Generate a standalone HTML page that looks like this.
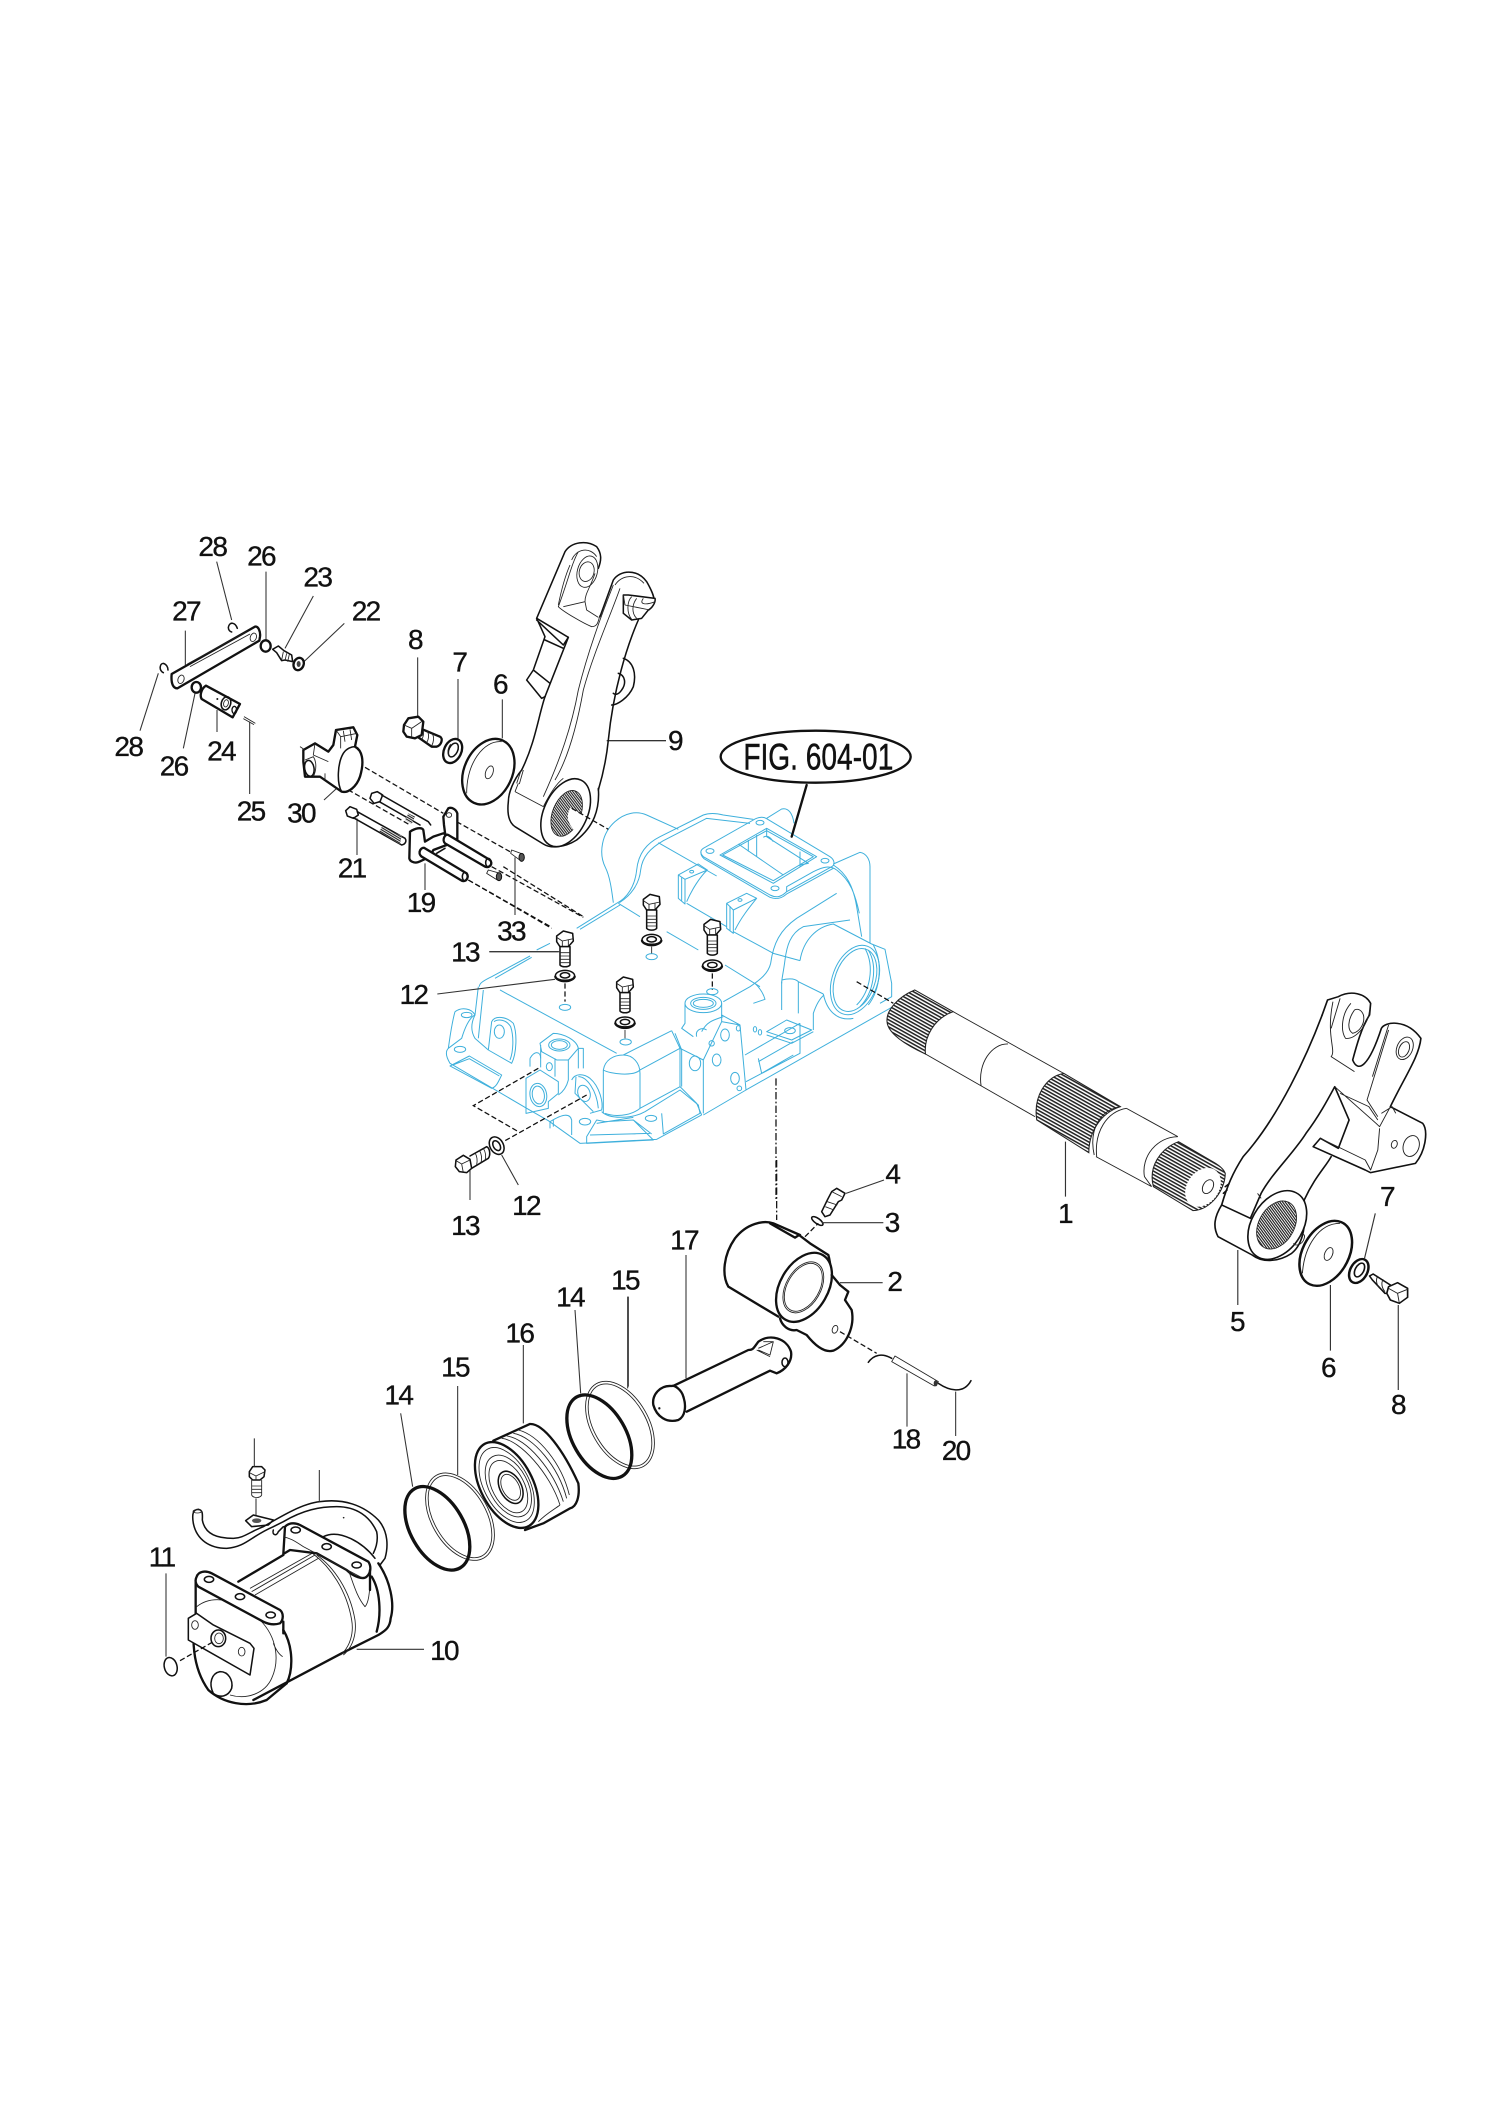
<!DOCTYPE html>
<html><head><meta charset="utf-8"><style>
html,body{margin:0;padding:0;background:#fff}
svg{display:block}
.k{fill:none;stroke:#111;stroke-width:7;stroke-linejoin:round;stroke-linecap:round}
.kw{fill:#fff;stroke:#111;stroke-width:7;stroke-linejoin:round}
.m{fill:none;stroke:#111;stroke-width:4.6;stroke-linejoin:round;stroke-linecap:round}
.mw{fill:#fff;stroke:#111;stroke-width:4.6;stroke-linejoin:round}
.t{fill:none;stroke:#222;stroke-width:2.6;stroke-linejoin:round}
.tw{fill:#fff;stroke:#222;stroke-width:2.6}
.b{fill:none;stroke:#3fb0dc;stroke-width:3;stroke-linejoin:round}
.l{fill:none;stroke:#333;stroke-width:3.2}
.d{fill:none;stroke:#111;stroke-width:3.8;stroke-dasharray:16 8}
.dd{fill:none;stroke:#111;stroke-width:3.8;stroke-dasharray:22 7 5 7}
.n{font-family:"Liberation Sans",sans-serif;font-size:84px;letter-spacing:-5px;text-anchor:middle;fill:#111;stroke:#111;stroke-width:1}
</style></head><body>
<svg xmlns="http://www.w3.org/2000/svg" width="1500" height="2121" viewBox="0 0 1500 2121">
<defs>
<pattern id="sp" width="9" height="9" patternUnits="userSpaceOnUse" patternTransform="rotate(31)"><rect width="9" height="9" fill="#fff"/><rect width="9" height="4.5" fill="#222"/></pattern>
<pattern id="sf" width="6" height="6" patternUnits="userSpaceOnUse" patternTransform="rotate(31)"><rect width="6" height="6" fill="#fff"/><rect width="6" height="3.4" fill="#222"/></pattern>
<g id="bolt"><path class="mw" d="M-25,-12 L-5,-27 L23,-20 L25,3 L10,20 L-15,20 L-25,5 Z"/><path class="t" d="M-25,-8 L-8,3 L25,-4 M-8,3 L-8,20 M10,0 L10,20"/><path class="mw" d="M-15,20 L-15,75 C-10,82 10,82 15,75 L15,20 Z"/><path class="t" d="M-15,38 L15,38 M-15,48 L15,48 M-15,58 L15,58 M-15,68 L15,68" stroke-width="4"/></g>
<g id="wash"><ellipse class="mw" rx="29" ry="17"/><path class="k" stroke-width="3" d="M-29,2 C-25,18 25,18 29,2"/><ellipse class="m" rx="14" ry="8" cy="-2"/></g>
</defs>
<rect width="1500" height="2121" fill="#fff"/>

<!-- housing, zoom-2 space -->
<g transform="translate(420,720) scale(.33333)">
<path class="b" d="M580,548 C575,510 570,470 556,442 C535,400 545,340 585,305 C615,278 650,272 680,285 L775,328"/>
<path class="b" d="M590,550 C620,535 645,500 650,450 C655,400 680,370 720,350 L850,285 C870,278 890,280 910,285 L1000,298"/>
<path class="b" d="M598,548 C635,525 658,490 662,450 C667,410 690,385 730,362 L860,295 L990,310"/>
<path class="b" d="M850,385 L1000,300 C1015,290 1030,290 1040,296 L1230,410 C1245,420 1245,435 1235,440 L1100,515 C1085,530 1070,535 1050,525 L850,410 C840,400 840,392 850,385 Z"/>
<path class="b" d="M843,395 C842,405 846,410 852,416 L1050,532 C1070,540 1085,535 1100,522 L1240,445"/>
<path class="b" d="M900,405 L1040,325 L1190,410 L1060,490 Z M908,405 L1040,332 L1180,410 L1060,482 Z"/>
<path class="b" d="M955,372 L1090,465 M1040,325 L1040,350 L1165,430 L1140,435 M985,360 L985,395 M1010,345 L1010,410 M1140,395 L1140,440 M1030,352 C1040,345 1050,350 1060,365"/>
<ellipse class="b" cx="870" cy="393" rx="12" ry="7"/><ellipse class="b" cx="1020" cy="308" rx="12" ry="7"/><ellipse class="b" cx="1215" cy="422" rx="12" ry="7"/><ellipse class="b" cx="1065" cy="505" rx="12" ry="7"/>
<path class="b" d="M1040,295 L1085,267 C1105,262 1118,280 1122,310"/>
<path class="b" d="M1240,432 L1320,397 C1340,400 1350,420 1350,440 L1350,670"/>
<path class="b" d="M1240,435 C1280,460 1300,500 1310,560 L1325,650 M1250,450 C1290,480 1305,520 1318,580"/>
<path class="b" d="M1100,515 L1100,500 L1180,455 C1210,440 1230,435 1250,450"/>
<path class="b" d="M715,368 L890,468 M595,550 L660,590 M740,635 L835,690 M915,735 L1020,800 M800,550 L920,620 M940,635 L1060,700 L1140,722"/>
<path class="b" d="M775,465 L775,535 L795,552 L795,478 Z M775,465 L835,432 L862,450 L795,478 M800,545 C815,510 840,470 862,450 M785,472 L785,542"/>
<ellipse class="b" cx="815" cy="455" rx="6" ry="4"/>
<path class="b" d="M920,550 L920,625 L940,640 L940,570 Z M920,550 L980,520 L1010,535 L940,570 M945,630 C965,590 990,560 1010,535 M930,558 L930,632"/>
<ellipse class="b" cx="960" cy="540" rx="6" ry="4"/>
<path class="b" d="M1250,520 L1130,595 C1080,630 1060,670 1052,730 C1045,760 1020,780 990,800 L910,845 M1290,600 L1150,620 C1110,640 1100,680 1095,720 C1090,760 1085,775 1085,790 M1005,790 C1020,805 1030,820 1035,838 L1000,850"/>
<path class="b" d="M1140,722 C1150,660 1190,620 1240,612 L1355,672"/>
<path class="b" d="M1210,822 C1220,870 1250,905 1300,895 M1355,672 L1395,688 L1415,790 L1415,830 L1380,850"/>
<ellipse class="b" cx="1305" cy="780" rx="68" ry="108" transform="rotate(20 1305 780)"/>
<ellipse class="b" cx="1305" cy="780" rx="60" ry="98" transform="rotate(20 1305 780)"/>
<path class="b" d="M1345,690 C1375,740 1360,820 1320,860 M1335,685 C1365,740 1350,815 1310,855 M1360,675 C1390,730 1380,810 1345,855"/>
<path class="b" d="M978,1110 L1415,862 M978,1085 L1140,1000 L1140,910 M975,1005 L1140,910 M1015,1025 L1120,965 M1025,1060 L1120,1005 M1015,1015 L1025,1060"/>
<path class="b" d="M1040,935 L1100,900 L1175,930 L1115,960 Z M1040,945 L1115,970 L1180,935"/>
<ellipse class="b" cx="1110" cy="932" rx="16" ry="9"/>
<ellipse class="b" cx="1005" cy="928" rx="5" ry="8"/><ellipse class="b" cx="1020" cy="937" rx="5" ry="8"/>
<path class="b" d="M1085,785 L1085,870 M1135,785 L1135,880 M1085,780 C1105,775 1125,775 1135,785 L1210,822 M1180,930 L1180,880 C1190,850 1200,835 1212,825"/>
<path class="b" d="M470,625 L590,550 M480,628 L600,555 M390,670 L350,690 M330,708 L215,770 C190,782 178,790 178,800 M335,712 L225,775 M240,810 L590,1000 M910,890 C880,900 860,905 845,935"/>
<ellipse class="b" cx="695" cy="710" rx="17" ry="9"/><ellipse class="b" cx="435" cy="862" rx="17" ry="9"/><ellipse class="b" cx="617" cy="966" rx="17" ry="9"/><ellipse class="b" cx="877" cy="815" rx="17" ry="9"/>
<g transform="translate(0,780)">
<path class="b" d="M105,95 C125,80 155,85 165,105 C155,110 140,125 125,175 L85,205 C75,215 78,230 90,250 L320,385 L385,422 L480,490 L710,478 L845,405"/>
<path class="b" d="M90,258 L148,228 L245,285 C235,305 230,320 215,325 Z M98,255 L148,236 L238,288 M105,95 C95,130 90,170 85,205"/>
<ellipse class="b" cx="120" cy="208" rx="17" ry="9"/><ellipse class="b" cx="140" cy="105" rx="16" ry="8"/>
<path class="b" d="M165,105 C155,125 150,150 165,175 L205,210 M165,105 L175,20 M175,175 L190,30"/>
<path class="b" d="M205,210 L215,125 C225,105 260,110 280,130 C292,160 290,220 275,250 L205,210 M222,125 C235,115 260,120 272,140 C282,170 280,215 270,240"/>
<ellipse class="b" cx="238" cy="155" rx="15" ry="20"/>
<path class="b" d="M360,190 L400,160 C430,160 470,180 475,205 L445,240 L410,240 L365,215 Z M362,195 L362,262 M405,235 L405,290 M445,240 L445,300 C440,320 430,335 415,345 M475,205 L490,205 L490,265 M475,205 L475,265"/>
<ellipse class="b" cx="418" cy="195" rx="32" ry="18"/><ellipse class="b" cx="418" cy="195" rx="24" ry="13"/>
<path class="b" d="M318,295 L360,270 L415,305 L415,340 L385,365 L385,385 L318,400 Z"/>
<ellipse class="b" cx="355" cy="345" rx="25" ry="35" transform="rotate(-10 355 345)"/><ellipse class="b" cx="355" cy="345" rx="18" ry="27" transform="rotate(-10 355 345)"/>
<ellipse class="b" cx="388" cy="260" rx="9" ry="12"/>
<path class="b" d="M330,235 C345,210 362,215 362,235 M330,235 L330,260"/>
<path class="b" d="M455,300 C465,280 490,280 510,295 C540,320 550,370 545,390 L510,400 M468,290 L465,340 L520,395 M475,290 C500,290 530,330 535,385"/>
<ellipse class="b" cx="492" cy="340" rx="18" ry="25" transform="rotate(-20 492 340)"/>
<path class="b" d="M550,400 L550,270 C555,240 580,225 610,225 C640,225 660,250 660,280 L660,385 M610,225 L755,152 M660,270 L780,205 M755,152 L780,205 M780,205 L780,320 L830,370 L845,405 M555,400 C580,410 630,410 660,385 L780,320 M550,270 C570,282 640,290 660,270 M765,160 L785,210 L785,320"/>
<path class="b" d="M545,395 C570,420 640,415 675,395 L780,330 L835,375 L840,400 L730,462 L725,400 M390,425 C430,400 450,400 455,420 L455,465 M400,420 L400,440 M390,425 L390,445"/>
<path class="b" d="M530,420 L500,470 L500,490 L700,480 L640,420 L555,425 Z M530,430 L640,412 M510,465 L690,460 M640,420 L695,462"/>
<ellipse class="b" cx="495" cy="425" rx="17" ry="10"/><ellipse class="b" cx="693" cy="415" rx="17" ry="9"/>
<path class="b" d="M850,400 L850,240 L905,125 L960,135 L978,330 L850,405 M905,125 L905,105 L960,135"/>
<ellipse class="b" cx="915" cy="165" rx="13" ry="18"/><ellipse class="b" cx="890" cy="240" rx="13" ry="18"/><ellipse class="b" cx="945" cy="295" rx="13" ry="18"/><ellipse class="b" cx="825" cy="250" rx="17" ry="22"/><ellipse class="b" cx="955" cy="145" rx="6" ry="8"/><ellipse class="b" cx="958" cy="325" rx="7" ry="7"/><ellipse class="b" cx="875" cy="190" rx="8" ry="8"/>
<path class="b" d="M795,70 L795,130 L785,145 L820,170 M905,70 L905,110 M830,170 C825,150 845,140 860,150 M850,240 L780,205"/>
<ellipse class="b" cx="850" cy="70" rx="55" ry="28"/><ellipse class="b" cx="850" cy="70" rx="38" ry="18"/><ellipse class="b" cx="850" cy="70" rx="30" ry="12"/>
</g>
<!-- bolts -->
<use href="#bolt" x="435" y="660"/><use href="#bolt" x="695" y="550"/><use href="#bolt" x="877" y="625"/><use href="#bolt" x="615" y="798"/>
<use href="#wash" x="435" y="768"/><use href="#wash" x="695" y="660"/><use href="#wash" x="877" y="737"/><use href="#wash" x="615" y="908"/>
<path class="d" d="M435,790 L435,845 M877,760 L877,810" stroke-dasharray="8 4"/>
<path class="t" d="M695,680 L695,700 M615,930 L615,955" stroke-width="3"/>
<path class="l" d="M560,62 L738,62 M52,822 L405,778 M208,695 L415,695 M245,1305 L295,1395 M150,1350 L150,1440"/>
<path class="k" stroke-width="5" d="M1160,195 L1115,350"/>
<ellipse cx="1187" cy="110" rx="285" ry="78" fill="none" stroke="#111" stroke-width="7"/>
<text x="970" y="148" font-family="Liberation Sans, sans-serif" font-size="112" fill="#111" stroke="#111" stroke-width="1.5" textLength="450" lengthAdjust="spacingAndGlyphs">FIG. 604-01</text>
<path class="dd" d="M1068,1075 L1068,1440"/>
<path class="d" d="M215,440 L490,592 M145,480 L395,622 M1310,785 L1420,850 M355,1045 L160,1157 L295,1235 M500,1125 L250,1265"/>
<!-- lower bolt -->
<path class="m" d="M150,1308 L200,1280 C210,1285 212,1305 205,1315 L155,1345" stroke-width="3.6"/>
<path class="t" d="M165,1298 C172,1310 172,1325 170,1335 M178,1290 C186,1305 186,1318 183,1328 M190,1285 C198,1298 198,1312 195,1322" stroke-width="3"/>
<path class="mw" d="M108,1320 L130,1306 L150,1318 L155,1345 L140,1358 L118,1355 L106,1340 Z"/>
<path class="t" d="M108,1322 L125,1332 L150,1320 M125,1332 L130,1358"/>
<ellipse class="mw" cx="230" cy="1277" rx="20" ry="28" transform="rotate(-30 230 1277)"/><ellipse class="m" cx="230" cy="1277" rx="10" ry="16" transform="rotate(-30 230 1277)"/>
<text class="n" x="765" y="90">9</text>
<text class="n" x="-20" y="852">12</text>
</g>

<!-- top-left small parts, zoom-1 space -->
<g transform="translate(100,520) scale(.33333)">
<path class="l" d="M350,125 L395,300 M498,155 L498,360 M640,228 L555,385 M256,332 L256,435 M733,310 L612,425 M953,412 L953,590 M1074,477 L1074,658 M1207,538 L1207,655 M120,632 L175,460 M250,685 L285,520 M351,636 L351,570 M449,822 L449,605 M672,840 L710,805 M771,1005 L771,895 M975,1110 L975,1030 M1245,1185 L1245,1012 M1168,1295 L1380,1295"/>
<path class="d" d="M795,742 L1030,880 M1070,905 L1230,995 M1105,1080 L1355,1225 M640,750 L930,915" stroke-width="3"/>
<path class="d" stroke-width="3" d="M1210,1040 L1450,1190"/>
<path class="kw" d="M215,462 L465,320 C475,318 482,335 480,350 L478,362 L232,505 C222,505 212,495 215,462 Z"/>
<path class="t" d="M262,432 L440,335 M270,440 L450,342"/>
<ellipse class="t" cx="243" cy="478" rx="9" ry="13" transform="rotate(20 243 478)"/><ellipse class="t" cx="460" cy="352" rx="9" ry="13" transform="rotate(20 460 352)"/>
<path class="m" d="M412,325 C405,305 388,305 385,322 C385,330 390,335 395,336 M190,458 C175,450 180,430 190,430 C198,432 204,440 204,450" stroke-width="3.4"/>
<ellipse class="k" cx="497" cy="378" rx="15" ry="17" stroke-width="8"/><ellipse class="k" cx="289" cy="502" rx="14" ry="16" stroke-width="7"/>
<path class="m" d="M530,398 L518,388 L535,378 L552,392 L575,405 L578,425 L555,420 L545,422 L530,398 Z" stroke-width="3.4"/>
<path class="t" d="M550,395 L545,420 M560,400 L555,422 M568,403 L563,425" stroke-width="3"/>
<ellipse class="k" cx="596" cy="432" rx="15" ry="19" transform="rotate(20 596 432)"/>
<ellipse cx="596" cy="432" rx="6" ry="9" fill="#444"/>
<path class="kw" d="M318,497 L420,552 L398,592 L305,537 C298,525 305,505 318,497 Z"/>
<ellipse class="m" cx="378" cy="550" rx="14" ry="20" transform="rotate(15 378 550)"/><ellipse class="t" cx="378" cy="550" rx="7" ry="11" transform="rotate(15 378 550)"/>
<ellipse cx="403" cy="570" rx="7" ry="11" fill="none" stroke="#111" stroke-width="4"/><circle cx="352" cy="537" r="3" fill="#111"/>
<path class="t" d="M432,590 L466,610 M430,596 L462,614" stroke-width="3"/>
<path class="kw" d="M960,625 L1020,650 C1030,655 1025,675 1010,680 L995,680 L945,645 Z" stroke-width="4"/>
<path class="t" d="M965,620 C975,635 970,650 965,660 M980,630 C990,645 985,660 980,668 M995,640 C1005,650 1000,668 995,678" stroke-width="3"/>
<path class="kw" d="M912,615 L925,595 L955,590 L970,605 L965,645 L945,655 L920,650 L910,635 Z" stroke-width="5"/>
<path class="t" d="M912,615 L935,625 L965,605 M935,625 L935,652"/>
<ellipse class="kw" cx="1058" cy="693" rx="26" ry="38" transform="rotate(25 1058 693)"/><ellipse class="m" cx="1060" cy="690" rx="13" ry="22" transform="rotate(25 1060 690)"/>
<path class="t" d="M1052,672 C1040,690 1042,705 1052,712"/>
<ellipse class="kw" cx="1165" cy="755" rx="72" ry="103" transform="rotate(25 1165 755)"/>
<path class="t" d="M1100,820 C1100,730 1150,660 1205,665"/>
<ellipse class="t" cx="1168" cy="757" rx="11" ry="20" transform="rotate(20 1168 757)"/>
<!-- 30 -->
<path class="kw" d="M610,690 L645,670 L685,695 L700,675 L708,630 L760,622 L772,645 L765,680 C785,690 795,720 780,770 C770,800 745,820 725,815 L660,770 L615,770 L610,725 Z" stroke-width="5"/>
<path class="m" d="M725,815 C710,790 712,730 730,700 C740,685 755,680 765,680"/>
<path class="t" d="M708,630 L722,650 L722,685 M722,650 L772,640 M730,632 L735,665 M750,628 L755,660 M615,720 L640,710 C650,725 650,750 640,770 M645,670 L640,705 L685,725 M675,760 L675,780 M600,680 L615,690" stroke-width="3"/>
<ellipse class="m" cx="628" cy="745" rx="14" ry="24" transform="rotate(-10 628 745)"/>
<!-- 21 bolts -->
<path class="mw" d="M750,860 L770,868 L775,885 L760,895 L742,888 L737,872 Z"/>
<path class="m" d="M772,875 L915,955 M760,893 L905,975 M915,955 C920,962 918,972 905,975" stroke-width="3.4"/>
<path d="M905,948 L846,920 L838,935 L900,972 Z" fill="url(#sf)"/>
<path class="mw" d="M815,820 L832,815 L848,825 L840,845 L822,850 L810,835 Z"/>
<path class="m" d="M845,825 L985,905 M838,845 L960,915 M985,905 L992,915" stroke-width="3.4"/>
<path d="M945,890 L925,880 L915,900 L935,912 Z" fill="url(#sf)"/>
<!-- 19 -->
<path class="kw" d="M1030,890 L1045,865 C1055,860 1068,868 1072,880 L1072,960 L1030,940 L1000,950 L975,965 L970,930 C965,920 945,925 930,935 L928,1015 C930,1028 950,1030 958,1025 L990,1010 L1000,990 L1040,975 L1032,915 Z" stroke-width="5"/>
<ellipse class="t" cx="1047" cy="885" rx="8" ry="7"/>
<path class="kw" d="M1045,945 L1170,1020 C1180,1030 1170,1045 1155,1040 L1035,970 C1025,960 1035,940 1045,945 Z"/>
<ellipse class="m" cx="1165" cy="1028" rx="8" ry="13"/>
<path class="kw" d="M975,985 L1100,1060 C1108,1072 1098,1088 1085,1082 L965,1010 C950,998 965,978 975,985 Z"/>
<ellipse class="m" cx="1095" cy="1070" rx="8" ry="13"/>
<path class="m" d="M1010,1000 L1035,985" />
<!-- 33 screws -->
<path class="t" d="M1235,990 L1270,1003 L1262,1022 L1232,1000 Z" stroke-width="3"/><ellipse cx="1265" cy="1012" rx="8" ry="12" fill="#555" stroke="#111" stroke-width="3"/>
<path class="t" d="M1165,1050 L1200,1060 L1192,1080 L1160,1060 Z" stroke-width="3"/><ellipse cx="1197" cy="1070" rx="8" ry="12" fill="#555" stroke="#111" stroke-width="3"/>
<text class="n" x="337" y="108">28</text><text class="n" x="483" y="136">26</text><text class="n" x="652" y="200">23</text><text class="n" x="258" y="302">27</text><text class="n" x="797" y="302">22</text><text class="n" x="945" y="387">8</text><text class="n" x="1078" y="455">7</text><text class="n" x="1200" y="520">6</text><text class="n" x="85" y="708">28</text><text class="n" x="221" y="767">26</text><text class="n" x="363" y="721">24</text><text class="n" x="452" y="902">25</text><text class="n" x="603" y="908">30</text><text class="n" x="755" y="1073">21</text><text class="n" x="962" y="1176">19</text><text class="n" x="1233" y="1261">33</text><text class="n" x="1095" y="1325">13</text>
</g>

<!-- arm 9, zoom-6 space -->
<g transform="translate(500,530) scale(.33333)">
<path class="t" d="M325,632 L498,632" stroke-width="3"/>
<path class="m" d="M370,385 C400,395 410,430 400,470 C385,505 350,525 335,525 M355,430 C375,435 380,460 365,480 C355,495 345,495 340,490"/>
<path class="m" d="M195,65 C215,35 260,30 290,50 C305,70 305,90 295,115 M195,65 L110,265 L205,322 L135,500"/>
<path class="m" d="M110,265 L135,320 L100,420 L80,450 L125,505 L135,500 M110,270 L190,345 L205,322 M135,330 L190,355 M80,450 L100,420 L150,460" stroke-width="3"/>
<path class="t" d="M235,65 C215,100 205,150 175,230 C190,245 250,280 275,290 C295,290 295,270 300,255 M255,215 L260,240 L295,262"/>
<path class="t" d="M215,90 C230,55 270,50 290,80 M175,225 C180,200 190,150 210,105 M285,130 C270,175 255,190 255,215 L190,230"/>
<ellipse class="t" cx="260" cy="125" rx="22" ry="30" transform="rotate(15 260 125)"/><ellipse class="t" cx="262" cy="125" rx="30" ry="48" transform="rotate(15 262 125)"/>
<path class="m" d="M300,260 L340,150 C360,120 410,115 440,155 C460,190 465,210 460,215 M415,270 C380,350 340,480 325,630 C320,680 310,730 295,780"/>
<path class="t" d="M345,165 C365,135 405,130 432,160 M340,165 C310,240 265,360 235,480 C215,590 180,690 130,800 M360,175 C330,260 280,370 250,480 C225,620 195,700 165,750"/>
<path class="mw" d="M370,195 L385,195 L465,205 C468,218 455,235 445,240 L425,265 L395,270 L370,250 Z"/>
<path class="t" d="M375,225 L450,240 M395,200 C380,215 380,250 395,268 M410,205 C395,225 395,250 410,265 M430,205 C415,225 440,225 465,215 M370,195 L375,225" stroke-width="3"/>
<path class="m" d="M135,500 C115,560 105,640 65,720 C40,750 25,790 25,815 C20,860 30,880 45,890 L130,942 C150,955 190,955 230,930 C280,890 300,840 295,775"/>
<path class="t" d="M45,785 L130,830 M55,760 L45,785 M130,830 C150,790 170,760 190,745"/>
<path class="t" d="M62,725 L50,760 M70,720 L58,762" stroke-width="3"/>
<ellipse class="mw" cx="197" cy="848" rx="65" ry="108" transform="rotate(25 197 848)"/>
<ellipse cx="200" cy="850" rx="42" ry="72" transform="rotate(22 200 850)" fill="url(#sf)" stroke="#222" stroke-width="2.4"/>
<path d="M212,832 L255,860 L225,905 C205,880 195,860 212,832 Z" fill="#fff"/>
<path class="d" d="M215,835 L325,898" stroke-width="4"/>
</g>

<!-- shaft + arm 5, zoom-3 space (x-compressed transcription) -->
<g transform="translate(877,960) scale(.359,.33333)">
<path d="M105,90 C60,110 25,150 28,185 C30,220 80,255 135,282 C130,230 160,175 212,155 Z" fill="url(#sp)" stroke="#222" stroke-width="3"/>
<path class="t" d="M212,155 L520,340 M135,282 L440,470 M365,252 C320,250 280,310 290,378" stroke-width="3"/>
<path d="M520,340 C470,350 435,410 445,480 L590,578 C590,520 620,460 678,440 Z" fill="url(#sp)" stroke="#222" stroke-width="3"/>
<path class="t" d="M678,440 C620,450 590,510 605,585 M695,445 C640,455 605,515 612,590 M695,445 L838,530 M610,590 L765,680 M838,530 C780,530 735,590 745,650 L765,680" stroke-width="3"/>
<path d="M840,545 C790,565 755,620 770,680 L880,752 C930,750 970,690 970,640 C965,625 950,615 940,608 Z" fill="url(#sp)" stroke="#222" stroke-width="3"/>
<ellipse cx="908" cy="682" rx="45" ry="62" transform="rotate(30 908 682)" fill="#fff"/>
<ellipse class="t" cx="922" cy="680" rx="14" ry="22" transform="rotate(25 922 680)"/>
<!-- arm 5 -->
<path class="m" d="M1240,165 C1200,280 1120,470 1020,590 C990,640 975,680 960,735 C940,770 935,800 950,830 L1045,885 C1075,910 1120,905 1155,880 C1190,850 1195,790 1190,720 C1220,650 1250,620 1265,590"/>
<path class="m" d="M1240,165 L1255,120 L1285,110 C1320,90 1360,100 1375,130 L1372,165 C1350,200 1335,260 1325,300 C1340,340 1370,320 1405,205 C1415,185 1475,175 1515,235 C1510,290 1470,350 1430,440 L1520,490 C1535,510 1530,570 1500,610 L1375,638 L1360,630 L1215,560 L1235,535 L1285,565 L1315,480 L1275,380 C1255,420 1230,470 1195,520 C1160,580 1100,640 1070,700 L1040,775 L960,735"/>
<path class="t" d="M1270,125 C1250,230 1280,270 1265,290 L1330,335 M1290,115 L1265,205 M1330,150 C1310,180 1310,210 1325,220 C1345,215 1360,190 1355,165 C1350,150 1340,145 1330,150 Z M1320,130 C1295,160 1290,210 1305,235 C1335,240 1370,190 1372,150 M1425,210 L1365,420 L1395,470 M1425,195 L1380,350 M1275,380 L1390,490 L1400,500 L1430,440 M1290,400 L1370,440 L1395,480 M1235,535 L1360,600 L1375,630 L1395,570 L1400,505 M1405,460 L1435,440 L1445,460 M1060,700 L1070,715"/>
<ellipse class="t" cx="1470" cy="265" rx="22" ry="35" transform="rotate(20 1470 265)"/><ellipse class="t" cx="1468" cy="268" rx="14" ry="24" transform="rotate(20 1468 268)"/>
<ellipse class="t" cx="1488" cy="558" rx="22" ry="32" transform="rotate(15 1488 558)"/><ellipse class="t" cx="1441" cy="553" rx="8" ry="12" transform="rotate(15 1441 553)"/>
<path class="m" d="M970,680 L980,672 M965,700 L975,690"/>
<ellipse class="mw" cx="1115" cy="795" rx="72" ry="110" transform="rotate(28 1115 795)" stroke-width="3"/>
<ellipse cx="1113" cy="795" rx="50" ry="76" transform="rotate(25 1113 795)" fill="url(#sf)" stroke="#222" stroke-width="2.4"/>
<path class="t" d="M1170,845 C1180,815 1195,820 1190,835 C1185,855 1165,860 1160,850" stroke-width="3"/>
<!-- 6 7 8 -->
<ellipse class="kw" cx="1250" cy="880" rx="65" ry="103" transform="rotate(25 1250 880)"/>
<path class="t" d="M1185,940 C1190,860 1230,790 1290,790"/>
<ellipse class="t" cx="1258" cy="882" rx="11" ry="20" transform="rotate(20 1258 882)"/>
<ellipse class="kw" cx="1342" cy="933" rx="24" ry="38" transform="rotate(25 1342 933)"/>
<ellipse class="m" cx="1344" cy="930" rx="12" ry="22" transform="rotate(25 1344 930)"/>
<path class="m" d="M1380,960 L1372,948 L1382,942 L1430,975 L1425,1000 L1415,1000 Z" stroke-width="3"/>
<path class="t" d="M1395,948 C1388,960 1392,975 1400,985 M1410,958 C1403,970 1407,985 1415,995"/>
<path class="mw" d="M1425,980 L1450,968 L1478,985 L1478,1012 L1455,1030 L1430,1020 L1420,1000 Z"/>
<path class="t" d="M1425,985 L1450,1000 L1478,988 M1450,1000 L1455,1030"/>
<path class="l" d="M525,545 L525,710 M1005,870 L1005,1035 M1263,975 L1263,1172 M1388,760 L1358,895 M1452,1035 L1452,1290"/>
</g>

<!-- 2,3,4,17,18,20, zoom-4 space -->
<g transform="translate(600,1160) scale(.33333)">
<path class="k" d="M600,225 L520,190 C490,180 440,190 405,235 C370,285 365,345 385,380 L535,470"/>
<path class="k" d="M510,190 L585,233 L597,225 L630,250 L685,285 C695,320 690,345 695,345"/>
<ellipse class="kw" cx="612" cy="382" rx="72" ry="112" transform="rotate(30 612 382)"/>
<ellipse class="t" cx="610" cy="382" rx="48" ry="78" transform="rotate(30 610 382)"/>
<ellipse class="t" cx="610" cy="382" rx="52" ry="83" transform="rotate(30 610 382)"/>
<path class="k" d="M540,475 C545,495 565,515 590,510 L620,525 C640,550 670,580 700,572 C740,555 765,500 755,450 L735,420 L745,395 L720,375 L695,345"/>
<ellipse class="t" cx="705" cy="508" rx="8" ry="12" transform="rotate(20 705 508)"/>
<path class="d" d="M720,515 L830,580" stroke-width="3"/>
<path class="dd" d="M530,0 L530,180"/>
<path class="d" d="M615,230 L655,190" stroke-width="3" stroke-dasharray="7 4"/>
<ellipse class="m" cx="652" cy="183" rx="20" ry="8" transform="rotate(35 652 183)"/>
<path class="m" d="M695,95 L710,85 L735,100 L725,120 L715,125 L690,165 L675,170 L665,155 L682,120 Z" stroke-width="3"/>
<path class="t" d="M682,125 L712,135 M676,140 L702,150 M695,95 L725,110"/>
<path class="l" d="M665,188 L850,188 M738,100 L852,60 M720,368 L848,368 M258,285 L258,655 M83,410 L83,685 M921,800 L921,640 M1067,828 L1067,695"/>
<path class="k" d="M215,680 L445,570 C460,570 460,565 475,545 C510,520 560,535 573,575 C578,605 555,630 530,640 L510,632 L260,755"/>
<path class="kw" d="M215,678 C180,675 155,705 160,735 C170,770 200,790 235,780 C255,770 260,740 250,710 C245,690 225,675 215,678 Z"/>
<path class="t" d="M475,565 L520,545 L510,585 L475,570 M490,545 L520,545 M470,570 L510,590" stroke-width="3"/>
<ellipse class="m" cx="555" cy="607" rx="9" ry="13"/>
<circle cx="178" cy="745" r="3.5" fill="#111"/>
<path class="m" d="M805,607 C820,585 845,578 875,595"/>
<path class="t" d="M885,588 L1015,665 L1003,678 L875,605 Z" stroke-width="3"/>
<ellipse cx="1007" cy="670" rx="6" ry="9" fill="#333"/>
<path class="m" d="M1015,670 C1045,690 1090,705 1113,662"/>
<text class="n" x="877" y="70">4</text><text class="n" x="875" y="216">3</text><text class="n" x="883" y="393">2</text><text class="n" x="252" y="268">17</text><text class="n" x="75" y="388">15</text><text class="n" x="917" y="866">18</text><text class="n" x="1067" y="900">20</text>
</g>

<!-- cylinder + rings, zoom-5 space -->
<g transform="translate(130,1350) scale(.33333)">
<ellipse class="t" cx="990" cy="500" rx="86" ry="143" transform="rotate(-30 990 500)" stroke-width="3"/>
<ellipse class="t" cx="990" cy="500" rx="78" ry="135" transform="rotate(-30 990 500)" stroke-width="3"/>
<ellipse cx="922" cy="535" rx="80" ry="137" transform="rotate(-30 922 535)" fill="none" stroke="#111" stroke-width="10"/>
<ellipse class="t" cx="1470" cy="225" rx="86" ry="143" transform="rotate(-30 1470 225)" stroke-width="3"/>
<ellipse class="t" cx="1470" cy="225" rx="78" ry="135" transform="rotate(-30 1470 225)" stroke-width="3"/>
<ellipse cx="1408" cy="260" rx="80" ry="137" transform="rotate(-30 1408 260)" fill="none" stroke="#111" stroke-width="10"/>
<!-- piston -->
<path class="k" d="M1090,272 L1200,222 C1240,220 1300,300 1345,400 C1350,440 1340,470 1320,475 L1240,520 L1185,540"/>
<path class="t" d="M1115,265 C1170,270 1260,370 1290,465 M1130,258 C1190,265 1270,360 1300,455 M1150,250 C1210,260 1285,350 1310,445 M1165,240 C1225,255 1295,340 1318,435 M1225,515 C1250,490 1270,480 1290,465" stroke-width="3"/>
<ellipse class="kw" cx="1130" cy="405" rx="78" ry="140" transform="rotate(-28 1130 405)"/>
<ellipse class="t" cx="1130" cy="405" rx="68" ry="122" transform="rotate(-28 1130 405)"/>
<ellipse class="t" cx="1135" cy="408" rx="58" ry="100" transform="rotate(-28 1135 408)"/>
<ellipse class="t" cx="1135" cy="410" rx="48" ry="85" transform="rotate(-28 1135 410)"/>
<ellipse class="m" cx="1142" cy="412" rx="32" ry="52" transform="rotate(-28 1142 412)" stroke-width="3"/>
<ellipse class="t" cx="1142" cy="412" rx="25" ry="42" transform="rotate(-28 1142 412)"/>
<!-- pipe -->
<path class="m" d="M205,478 C190,478 185,490 190,520 C200,570 240,595 290,595 C350,590 360,560 430,530 L460,515 C520,480 570,470 620,470 C680,470 720,500 740,545 C745,570 740,590 730,610"/>
<path class="m" d="M205,478 C218,480 218,490 217,510 C225,555 265,565 310,565 C340,565 360,545 400,530 C460,495 520,460 570,455 C640,445 700,465 745,510 C775,545 775,590 765,625 L750,645"/>
<ellipse class="t" cx="202" cy="484" rx="13" ry="5"/>
<path class="m" d="M347,512 L370,495 L430,510 L415,525 L365,530 Z" stroke-width="3.4"/>
<ellipse cx="380" cy="512" rx="14" ry="7" fill="#555"/>
<path class="m" d="M430,540 C425,555 440,560 445,545 L460,530" stroke-width="3"/>
<circle cx="641" cy="503" r="2.5" fill="#222"/>
<!-- body -->
<path class="m" d="M580,560 C630,535 700,580 735,625" stroke-width="5"/>
<path d="M460,615 C450,640 340,695 325,695 L360,1050 L635,910 L740,850 L780,810 C795,760 780,690 745,640 L700,610 Z" fill="#fff"/>
<path class="k" d="M325,695 L460,615 M370,1050 L635,910 L665,895 L745,855 C770,840 780,830 782,805 C795,760 780,690 745,640 M460,840 C490,890 490,960 470,1000 M725,680 C750,720 755,790 740,845"/>
<path class="t" d="M365,725 L555,615 M375,735 L565,625 M360,715 L550,608 M560,615 C610,650 660,720 675,810 C680,850 670,890 640,915 M550,612 C600,650 650,720 665,810 C672,850 660,890 632,915" stroke-width="3"/>
<path class="kw" d="M465,530 C480,515 500,520 510,525 L715,635 C725,650 722,670 710,680 C700,690 670,680 650,660 L560,610 L480,600 L460,612 Z" stroke-width="5"/>
<path class="t" d="M460,560 C480,565 490,570 520,590 L700,685 M655,660 C670,700 680,740 705,770 C715,760 720,730 720,680"/>
<ellipse class="m" cx="497" cy="540" rx="14" ry="9" stroke-width="3"/><ellipse class="m" cx="590" cy="590" rx="14" ry="9" stroke-width="3"/><ellipse class="m" cx="680" cy="645" rx="14" ry="9" stroke-width="3"/>
<path class="k" d="M720,660 L720,720" stroke-width="4"/>
<!-- front -->
<path class="k" d="M197,695 L197,790 C185,860 185,950 235,1020 C280,1060 350,1075 410,1050 L470,1000"/>
<path class="t" d="M200,770 C250,730 330,750 390,810 C440,860 450,930 425,985 C405,1030 350,1050 300,1035 M430,880 C440,905 450,915 458,920"/>
<path class="kw" d="M200,680 C205,665 225,660 245,670 L450,780 C462,790 460,810 450,820 C435,825 420,825 400,815 L205,710 C195,700 195,690 200,680 Z" stroke-width="5"/>
<ellipse class="m" cx="237" cy="688" rx="14" ry="9" stroke-width="3"/><ellipse class="m" cx="330" cy="740" rx="14" ry="9" stroke-width="3"/><ellipse class="m" cx="422" cy="795" rx="14" ry="9" stroke-width="3"/>
<path class="k" d="M460,815 L460,850" stroke-width="4"/>
<path class="mw" d="M175,805 L200,790 L250,825 L360,880 L372,895 L360,975 L175,870 Z"/>
<ellipse class="t" cx="195" cy="825" rx="10" ry="13" stroke-width="3"/><ellipse class="t" cx="335" cy="905" rx="10" ry="13" stroke-width="3"/>
<ellipse class="m" cx="265" cy="865" rx="22" ry="25"/><ellipse class="t" cx="267" cy="865" rx="13" ry="16"/>
<path class="mw" d="M250,1030 C235,1000 245,970 270,965 C295,965 310,990 305,1015 C295,1040 270,1045 250,1030 Z"/>
<ellipse class="m" cx="122" cy="950" rx="19" ry="28" transform="rotate(-15 122 950)" stroke-width="3"/>
<path class="d" d="M150,932 L250,875" stroke-width="3"/>
<!-- top bolt -->
<path class="mw" d="M358,365 L368,350 L395,350 L405,360 L402,380 L390,390 L368,390 L358,380 Z" stroke-width="3"/>
<path class="t" d="M358,368 L378,378 L405,365 M378,378 L378,390"/>
<path class="t" d="M365,390 L365,435 C370,445 390,445 395,435 L395,390 M365,408 L395,408 M365,418 L395,418 M365,428 L395,428" stroke-width="3"/>
<path class="l" d="M373,265 L373,350 M378,445 L378,495 M568,360 L568,455 M108,670 L108,920 M680,898 L882,898 M812,190 L848,410 M983,108 L983,375 M1180,-15 L1180,220 M1335,-120 L1352,130 M1495,-160 L1495,110"/>
<text class="n" x="975" y="80">15</text><text class="n" x="805" y="163">14</text><text class="n" x="95" y="650">11</text><text class="n" x="942" y="930">10</text>
</g>

<!-- labels in page coordinates -->
<g transform="scale(.33333)">
<text class="n" x="1558" y="4028">16</text>
<text class="n" x="1710" y="3919">14</text>
<text class="n" x="1578" y="3645">12</text>
<text class="n" x="1395" y="3705">13</text>
<text class="n" x="3195" y="3669">1</text>
<text class="n" x="3711" y="3993">5</text>
<text class="n" x="4161" y="3618">7</text>
<text class="n" x="3984" y="4131">6</text>
<text class="n" x="4194" y="4242">8</text>
</g>
</svg>
</body></html>
